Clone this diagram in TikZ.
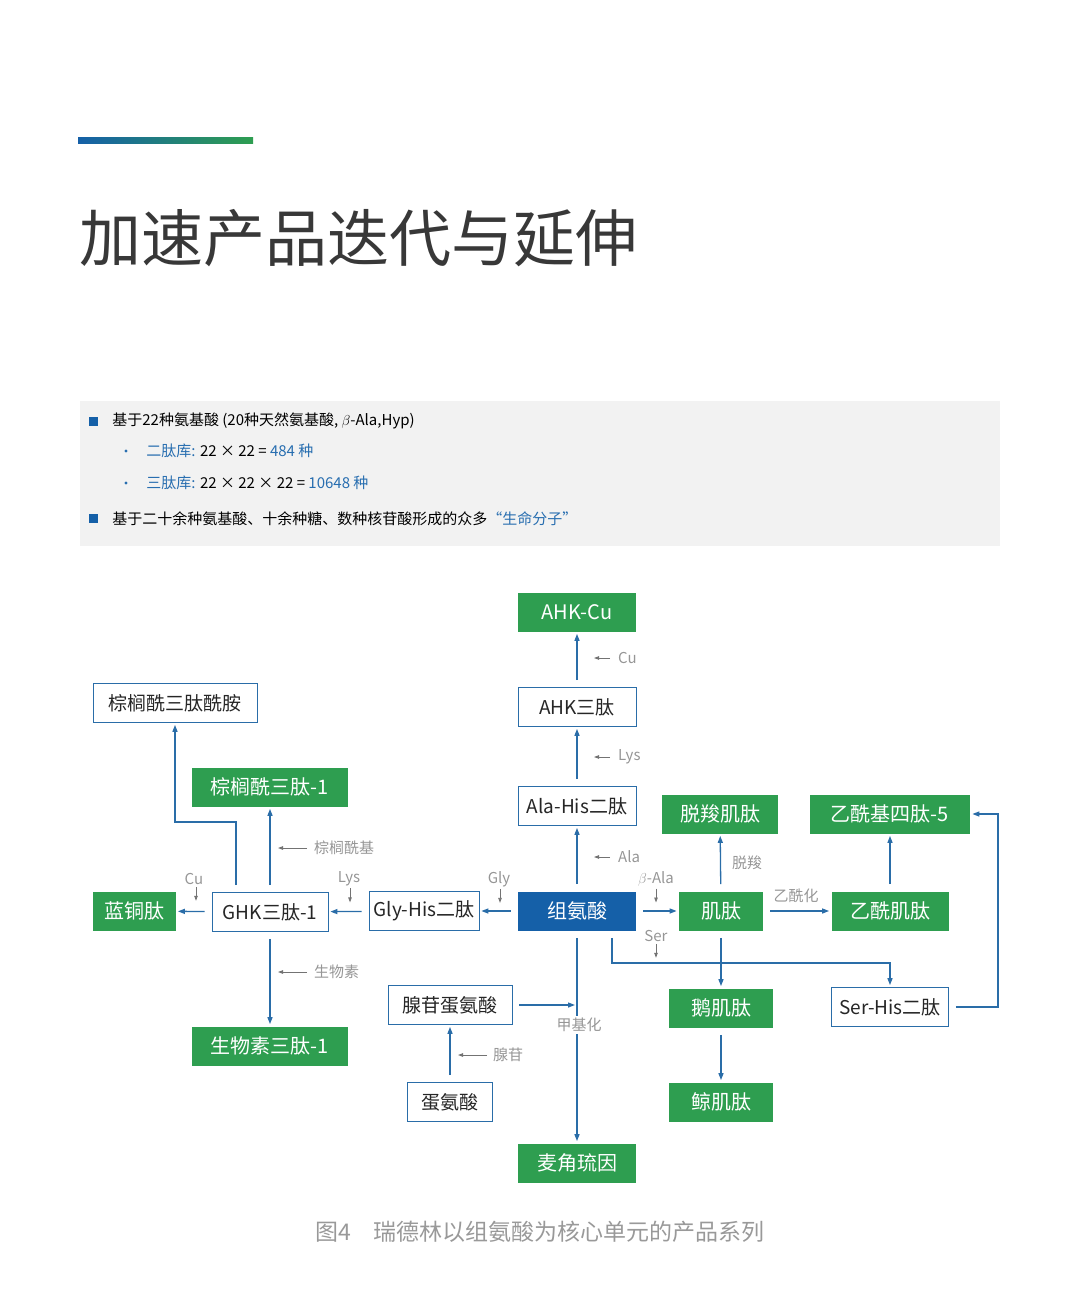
\documentclass[tikz,border=0pt]{standalone}
\usepackage{fontspec}
\setmainfont{Noto Sans CJK SC}
\usetikzlibrary{arrows.meta}
\definecolor{pgreen}{RGB}{46,158,80}
\definecolor{pblue}{RGB}{21,96,168}
\definecolor{lblue}{RGB}{42,109,168}
\definecolor{tblue}{RGB}{40,110,176}
\definecolor{lgrey}{RGB}{150,150,150}
\tikzset{every picture/.style={line width=0.75pt},
  wbox/.style={draw=lblue,fill=white,minimum width=#1,minimum height=39pt,inner sep=0pt,font=\fontsize{19}{19}\selectfont,text=black!85},
  gbox/.style={fill=pgreen,minimum width=#1,minimum height=39pt,inner sep=0pt,font=\fontsize{20}{20}\selectfont,text=white},
  arr/.style={draw=lblue,line width=1.3pt,-{Triangle[length=7pt,width=5pt]},shorten <=7pt,shorten >=2pt},
  tip/.style={draw=black!55,line width=0.8pt,-{Triangle[length=5pt,width=3.5pt]}},
  lab/.style={text=lgrey,font=\fontsize{15}{15}\selectfont,inner sep=0.75pt}}

\begin{document}
\begin{tikzpicture}[x=1pt,y=1pt,yscale=-1,xscale=1]
        \useasboundingbox (0,0) rectangle (1080,1304);
        %Shape: Bar and title
        \shade [left color=pblue,right color=pgreen] (78,137) rectangle (253,143);
        \draw (79,238) node [anchor=west][inner sep=0pt] [font=\fontsize{62}{62}\selectfont,text=black!78] (title) {加速产品迭代与延伸};
        %Shape: Rectangle
        \fill [black!5] (80,401) rectangle (1000,546);
        \fill [pblue] (89,417) rectangle (98,426);
        \fill [pblue] (89,514) rectangle (98,523);
        \fill [tblue] (126,451) circle (1.6);
        \fill [tblue] (126,483) circle (1.6);
        % Text Node
        \draw (112,421) node [anchor=west][inner sep=0pt] [font=\fontsize{15}{15}\selectfont] (b1) {基于22种氨基酸 (20种天然氨基酸, $\beta$-Ala,Hyp)};
        \draw (146,451) node [anchor=west][inner sep=0pt] [font=\fontsize{15}{15}\selectfont] (b2) {\textcolor{tblue}{二肽库:} 22 × 22 = \textcolor{tblue}{484 种}};
        \draw (146,483) node [anchor=west][inner sep=0pt] [font=\fontsize{15}{15}\selectfont] (b3) {\textcolor{tblue}{三肽库:} 22 × 22 × 22 = \textcolor{tblue}{10648 种}};
        \draw (112,519) node [anchor=west][inner sep=0pt] [font=\fontsize{15}{15}\selectfont] (b4) {基于二十余种氨基酸、十余种糖、数种核苷酸形成的众多\textcolor{tblue}{“生命分子”}};
        %Shape: Boxes
        \node [gbox=118pt] (ahkcu) at (577,612) {AHK-Cu};
        \node [wbox=118pt] (ahk) at (577,707) {AHK三肽};
        \node [wbox=118pt] (alahis) at (577,806) {Ala-His二肽};
        \node [fill=pblue,minimum width=118pt,minimum height=39pt,inner sep=0pt,font=\fontsize{20}{20}\selectfont,text=white] (his) at (577,911) {组氨酸};
        \node [gbox=118pt] (ergo) at (577,1163) {麦角琉因};
        \node [wbox=164pt] (palmamide) at (175,703) {棕榈酰三肽酰胺};
        \node [gbox=156pt] (palm) at (270,787) {棕榈酰三肽-1};
        \node [gbox=83pt] (cupep) at (134,911) {蓝铜肽};
        \node [wbox=116pt] (ghk) at (270,912) {GHK三肽-1};
        \node [wbox=110pt] (glyhis) at (424,911) {Gly-His二肽};
        \node [gbox=156pt] (biotin) at (270,1046) {生物素三肽-1};
        \node [wbox=124pt] (same) at (450,1005) {腺苷蛋氨酸};
        \node [wbox=85pt] (met) at (450,1102) {蛋氨酸};
        \node [gbox=84pt] (carn) at (721,911) {肌肽};
        \node [gbox=116pt] (decarb) at (720,814) {脱羧肌肽};
        \node [gbox=160pt] (tetra) at (890,814) {乙酰基四肽-5};
        \node [gbox=117pt] (acarn) at (890,911) {乙酰肌肽};
        \node [gbox=104pt] (anser) at (721,1008) {鹅肌肽};
        \node [wbox=117pt] (serhis) at (890,1007) {Ser-His二肽};
        \node [gbox=104pt] (balen) at (721,1102) {鲸肌肽};
        %Straight Lines
        \draw [arr] (his) -- (alahis);
        \draw [arr] (alahis) -- (ahk);
        \draw [arr] (ahk) -- (ahkcu);
        \draw [arr] (his) -- (glyhis);
        \draw [arr] (glyhis) -- (ghk);
        \draw [arr] (ghk) -- (cupep);
        \draw [arr] (ghk) -- (palm);
        \draw [arr] (ghk) -- (biotin);
        \draw [arr] (ghk.north -| 236,0) |- (175,822) -- (palmamide);
        \draw [arr] (his) -- (carn);
        \draw [arr] (carn) -- (decarb);
        \draw [arr] (carn) -- (acarn);
        \draw [arr] (acarn) -- (tetra);
        \draw [arr] (carn) -- (anser);
        \draw [arr] (anser) -- (balen);
        \draw [arr] (his.south -| 612,0) |- (890,963) -- (serhis);
        \draw [arr] (serhis.east) -| (998,814) -- (tetra.east);
        \draw [arr] (met) -- (same);
        \coordinate (mid) at (577,1005);
        \draw [arr] (same) -- (mid);
        \draw [arr] (his) -- (ergo);
        % Text Node
        \draw (579,1025) node [lab,fill=white,inner sep=2pt] (methyl) {甲基化};
        \draw (617,658) node [lab,anchor=west] (lcu) {Cu};
        \draw (617,757) node [lab,anchor=west] (llys) {Lys};
        \draw (617,857) node [lab,anchor=west] (lala) {Ala};
        \draw (313,848) node [lab,anchor=west] (lpalm) {棕榈酰基};
        \draw (313,972) node [lab,anchor=west] (lbio) {生物素};
        \draw (492,1055) node [lab,anchor=west] (lade) {腺苷};
        \draw (194,879) node [lab] (lcu2) {Cu};
        \draw (349,879) node [lab] (llys2) {Lys};
        \draw (499,879) node [lab] (lgly) {Gly};
        \draw (656,879) node [lab] (lbala) {$\beta$-Ala};
        \draw (656,936) node [lab] (lser) {Ser};
        \draw (747,863) node [lab] (ldec) {脱羧};
        \draw (796,896) node [lab] (lacet) {乙酰化};
        %Small arrows
        \draw [tip] (lcu.west) ++(-7,0) -- ++(-16,0);
        \draw [tip] (llys.west) ++(-7,0) -- ++(-16,0);
        \draw [tip] (lala.west) ++(-7,0) -- ++(-16,0);
        \draw [tip] (lpalm.west) ++(-6,0) -- ++(-29,0);
        \draw [tip] (lbio.west) ++(-6,0) -- ++(-29,0);
        \draw [tip] (lade.west) ++(-5,0) -- ++(-29,0);
        \draw [tip] (lcu2.south) ++(2,1) -- ++(0,14);
        \draw [tip] (llys2.south) ++(1,1) -- ++(0,14);
        \draw [tip] (lgly.south) ++(1,1) -- ++(0,14);
        \draw [tip] (lbala.south) ++(0,1) -- ++(0,14);
        \draw [tip] (lser.south) ++(0,1) -- ++(0,14);
        % Caption
        \draw (540,1232) node [inner sep=0pt] [font=\fontsize{23}{23}\selectfont,text=black!40] (caption) {图4\quad 瑞德林以组氨酸为核心单元的产品系列};
\end{tikzpicture}
\end{document}
